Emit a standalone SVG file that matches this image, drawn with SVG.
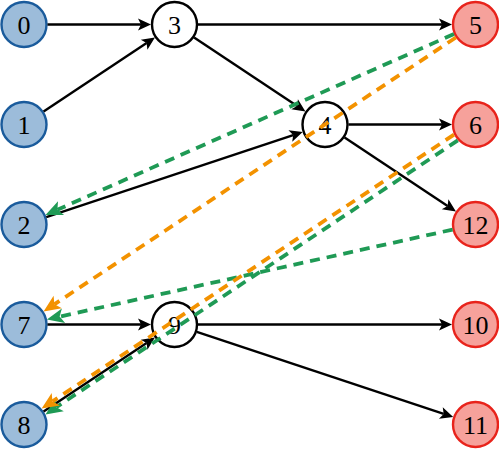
<svg xmlns="http://www.w3.org/2000/svg" width="499" height="449" viewBox="0 0 499 449">
<style>
.nd circle{stroke-width:2.4}
.src circle{fill:#9cbcda;stroke:#1a5b9c}
.mid circle{fill:#ffffff;stroke:#000000}
.snk circle{fill:#f6a19b;stroke:#e8231b}
text{font-family:"Liberation Serif","Times New Roman",serif;font-size:26px;fill:#000;text-anchor:middle}
.e{fill:none;stroke:#000;stroke-width:2.4}
.g{fill:none;stroke:#1f9a55;stroke-width:3.8;stroke-dasharray:10 7}
.o{fill:none;stroke:#f39200;stroke-width:3.8;stroke-dasharray:10 7}
</style>
<defs>
<marker id="ak" markerUnits="userSpaceOnUse" markerWidth="30" markerHeight="30" viewBox="-10 -15 30 30" refX="0" refY="0" orient="auto" overflow="visible">
<path d="M10,0 L-3,-6 L0,0 L-3,6 Z" fill="#000"/>
</marker>
<marker id="ag" markerUnits="userSpaceOnUse" markerWidth="30" markerHeight="30" viewBox="-10 -15 30 30" refX="0" refY="0" orient="auto" overflow="visible">
<path d="M13,0 L-4,-7.5 L0,0 L-4,7.5 Z" fill="#1f9a55"/>
</marker>
<marker id="ao" markerUnits="userSpaceOnUse" markerWidth="30" markerHeight="30" viewBox="-10 -15 30 30" refX="0" refY="0" orient="auto" overflow="visible">
<path d="M13,0 L-4,-7.5 L0,0 L-4,7.5 Z" fill="#f39200"/>
</marker>
</defs>
<g id="nodes">
<g id="n0" class="nd src"><circle cx="24" cy="24.5" r="22.5"/><text x="24" y="33.5">0</text></g>
<g id="n1" class="nd src"><circle cx="24" cy="124.5" r="22.5"/><text x="24" y="133.5">1</text></g>
<g id="n2" class="nd src"><circle cx="24" cy="224.5" r="22.5"/><text x="24" y="233.5">2</text></g>
<g id="n7" class="nd src"><circle cx="24" cy="324.5" r="22.5"/><text x="24" y="333.5">7</text></g>
<g id="n8" class="nd src"><circle cx="24" cy="424.5" r="22.5"/><text x="24" y="433.5">8</text></g>
<g id="n3" class="nd mid"><circle cx="174.5" cy="24.5" r="22.5"/><text x="174.5" y="33.5">3</text></g>
<g id="n4" class="nd mid"><circle cx="325" cy="124.5" r="22.5"/><text x="325" y="133.5">4</text></g>
<g id="n9" class="nd mid"><circle cx="174.5" cy="324.5" r="22.5"/><text x="174.5" y="333.5">9</text></g>
<g id="n5" class="nd snk"><circle cx="475.5" cy="24.5" r="22.5"/><text x="475.5" y="33.5">5</text></g>
<g id="n6" class="nd snk"><circle cx="475.5" cy="124.5" r="22.5"/><text x="475.5" y="133.5">6</text></g>
<g id="n12" class="nd snk"><circle cx="475.5" cy="224.5" r="22.5"/><text x="475.5" y="233.5">12</text></g>
<g id="n10" class="nd snk"><circle cx="475.5" cy="324.5" r="22.5"/><text x="475.5" y="333.5">10</text></g>
<g id="n11" class="nd snk"><circle cx="475.5" cy="424.5" r="22.5"/><text x="475.5" y="433.5">11</text></g>
</g>
<g id="connectors">
<path class="e" d="M47.5,24.5 L141,24.5" marker-end="url(#ak)"/>
<path class="e" d="M43.6,111.5 L146.6,43" marker-end="url(#ak)"/>
<path class="e" d="M198,24.5 L442,24.5" marker-end="url(#ak)"/>
<path class="e" d="M194.1,37.5 L297.1,106" marker-end="url(#ak)"/>
<path class="e" d="M46.3,217.1 L293.2,135.1" marker-end="url(#ak)"/>
<path class="e" d="M348.5,124.5 L442,124.5" marker-end="url(#ak)"/>
<path class="e" d="M344.6,137.5 L447.6,206" marker-end="url(#ak)"/>
<path class="e" d="M47.5,324.5 L141,324.5" marker-end="url(#ak)"/>
<path class="e" d="M43.6,411.5 L146.6,343" marker-end="url(#ak)"/>
<path class="e" d="M198,324.5 L442,324.5" marker-end="url(#ak)"/>
<path class="e" d="M196.8,331.9 L443.7,413.9" marker-end="url(#ak)"/>
<path class="g" d="M454,34 L57.4,209.7" marker-end="url(#ag)"/>
<path class="g" d="M452.6,229.6 L59.6,316.6" marker-end="url(#ag)"/>
<path class="g" d="M457.8,140.4 L56.3,407.2" marker-end="url(#ag)"/>
<path class="o" d="M455.9,37.5 L54.4,304.3" marker-end="url(#ao)"/>
<path class="o" d="M454,134.6 L52.5,401.4" marker-end="url(#ao)"/>
</g>
</svg>
